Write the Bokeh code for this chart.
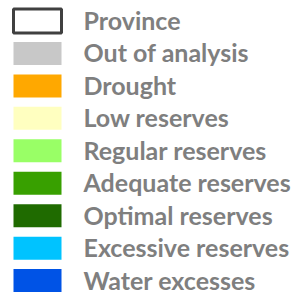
from bokeh.plotting import figure
from bokeh.models import Range1d, ColumnDataSource
from bokeh.core.properties import value
from bokeh.embed import file_html
from bokeh.resources import INLINE

labels = ["Province", "Out of analysis", "Drought", "Low reserves", "Regular reserves",
          "Adequate reserves", "Optimal reserves", "Excessive reserves", "Water excesses"]
colors = ["#ffffff", "#c8c8c8", "#ffa800", "#ffffc0", "#99ff66",
          "#38a000", "#1f6b00", "#00c3ff", "#0053e6"]
border = ["#404040"] + [None] * 8

rows = list(range(len(labels)))
src = ColumnDataSource(dict(y=rows, label=labels, color=colors))

W, H = 296, 295
step = 32.45
top = -20.5 / step
bottom = top + H / step

p = figure(width=W, height=H, output_backend="svg", toolbar_location=None,
           x_range=Range1d(0, W), y_range=Range1d(bottom, top),
           min_border=0)
p.axis.visible = False
p.grid.visible = False
p.outline_line_color = None

p.rect(x=37, y=rows[1:], width=48, height=23, width_units="screen", height_units="screen",
       fill_color=colors[1:], line_color=None)
p.rect(x=37, y=rows[:1], width=48, height=24, width_units="screen", height_units="screen",
       fill_color=colors[0], line_color=border[0], line_width=3)

p.text(x=83, y="y", text="label", source=src, text_font=value("Lato"),
       text_font_style="bold", text_font_size="25px", text_color="#7f7f7f",
       text_baseline="middle", text_align="left", y_offset=-1)

open("out.html", "w").write(file_html(p, INLINE))
